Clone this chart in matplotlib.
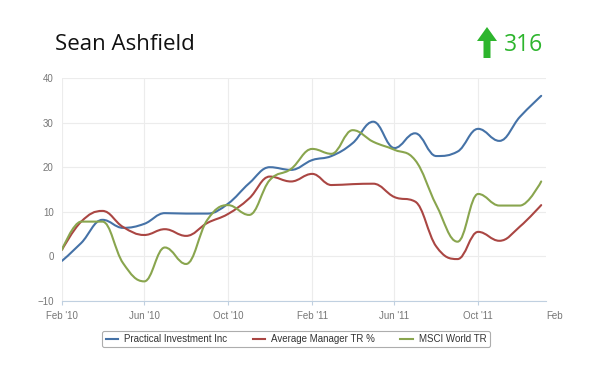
import numpy as np
import pandas as pd
import matplotlib
matplotlib.use('Agg')
import matplotlib.pyplot as plt
from matplotlib.path import Path
from matplotlib.patches import PathPatch, Polygon
from matplotlib.lines import Line2D

start = pd.Timestamp('2010-02-01')
dates = pd.date_range('2010-02-01', periods=24, freq='MS')
tick_dates = pd.to_datetime(['2010-02-01', '2010-06-01', '2010-10-01',
                             '2011-02-01', '2011-06-01', '2011-10-01'])
tick_labels = ["Feb '10", "Jun '10", "Oct '10", "Feb '11", "Jun '11", "Oct '11"]

practical = [-1.0, 3.0, 8.2, 6.4, 7.3, 9.7, 9.6, 9.6, 11.8, 16.4, 20.0, 19.4,
             21.6, 22.5, 25.4, 30.2, 24.3, 27.6, 22.5, 23.5, 28.6, 25.9, 31.3, 36.0]
avg_manager = [1.5, 7.8, 10.2, 6.6, 4.8, 6.1, 4.6, 7.5, 9.5, 13.0, 17.9, 16.8,
               18.5, 16.0, 16.2, 16.3, 13.3, 12.3, 2.2, -0.6, 5.5, 3.5, 6.7, 11.5]
msci = [1.5, 7.8, 7.8, -1.5, -5.6, 2.0, -1.7, 8.2, 11.5, 9.3, 17.1, 19.6,
        24.1, 23.0, 28.3, 25.7, 23.9, 21.6, 11.5, 3.3, 14.0, 11.4, 11.4, 16.8]

series = [("Practical Investment Inc", practical, '#4572A7'),
          ("Average Manager TR %", avg_manager, '#AA4643'),
          ("MSCI World TR", msci, '#89A54E')]

days = [(d - start).days for d in dates]
tick_days = [(d - start).days for d in tick_dates]


def spline_path(xs, ys, smoothing=1.5):
    # highcharts-like bezier spline
    n = len(xs)
    verts = [(xs[0], ys[0])]
    codes = [Path.MOVETO]
    prev_right = (xs[0], ys[0])
    for i in range(1, n):
        x, y = xs[i], ys[i]
        lx, ly = xs[i - 1], ys[i - 1]
        if i < n - 1:
            nx, ny = xs[i + 1], ys[i + 1]
            d = smoothing + 1
            lcx = (smoothing * x + lx) / d
            lcy = (smoothing * y + ly) / d
            rcx = (smoothing * x + nx) / d
            rcy = (smoothing * y + ny) / d
            corr = (rcy - lcy) * (rcx - x) / (rcx - lcx) + y - rcy
            lcy += corr
            rcy += corr
            if lcy > ly and lcy > y:
                lcy = max(ly, y)
                rcy = 2 * y - lcy
            elif lcy < ly and lcy < y:
                lcy = min(ly, y)
                rcy = 2 * y - lcy
            if rcy > ny and rcy > y:
                rcy = max(ny, y)
                lcy = 2 * y - rcy
            elif rcy < ny and rcy < y:
                rcy = min(ny, y)
                lcy = 2 * y - rcy
        else:
            lcx, lcy, rcx, rcy = x, y, x, y
        verts += [prev_right, (lcx, lcy), (x, y)]
        codes += [Path.CURVE4] * 3
        prev_right = (rcx, rcy)
    return Path(verts, codes)


fig = plt.figure(figsize=(6, 3.85), dpi=100)
ax = fig.add_axes([62 / 600, 1 - 301 / 385, 484 / 600, 223 / 385])

for name, vals, col in series:
    ax.add_patch(PathPatch(spline_path(days, vals), facecolor='none',
                           edgecolor=col, lw=1.5, capstyle='round', joinstyle='round'))

ax.set_ylim(-10, 40)
ax.set_yticks([-10, 0, 10, 20, 30, 40])
ax.set_xticks(tick_days)
ax.set_xticklabels(tick_labels)
ax.set_xlim(0, 706)
ax.grid(True, color='#ececec', lw=0.8)
ax.set_axisbelow(True)
for s in ['top', 'right', 'left']:
    ax.spines[s].set_visible(False)
ax.spines['bottom'].set_color('#C0D0E0')
ax.tick_params(axis='y', length=0, pad=6, labelsize=7, labelcolor='#777777')
ax.tick_params(axis='x', length=3, color='#C0D0E0', pad=4, labelsize=7, labelcolor='#777777')
for lab in ax.get_xticklabels() + ax.get_yticklabels():
    lab.set_family('Liberation Sans')
# last month label, cut at the plot edge
fig.text(546 / 600, 1 - 316 / 385, "Feb", fontsize=7, family='Liberation Sans',
         color='#777777', ha='left', va='center')

handles = [Line2D([], [], color=c, lw=1.5) for _, _, c in series]
leg = fig.legend(handles, [n for n, _, _ in series], loc='center',
                 bbox_to_anchor=(296 / 600, 1 - 339 / 385), ncol=3,
                 prop={'family': 'Liberation Sans', 'size': 7}, frameon=True,
                 handlelength=1.3, columnspacing=2.6, handletextpad=0.6,
                 borderpad=0.35, fancybox=True)
leg.get_frame().set_edgecolor('#999999')
leg.get_frame().set_linewidth(0.8)
for t in leg.get_texts():
    t.set_color('#333333')

fig.text(55 / 600, 1 - 45 / 385, "Sean Ashfield", fontsize=16, family='Open Sans',
         va='center', ha='left', color='#111111')
fig.text(504 / 600, 1 - 45 / 385, "316", fontsize=16.5, family='Open Sans',
         va='center', ha='left', color='#2db52d')

# green up arrow
W, H = 600.0, 385.0
arrow_px = [(487, 27), (497, 41), (490.5, 41), (490.5, 58), (483.5, 58), (483.5, 41), (477, 41)]
arrow = Polygon([(x / W, 1 - y / H) for x, y in arrow_px], closed=True,
                transform=fig.transFigure, facecolor='#2db52d', edgecolor='none')
fig.patches.append(arrow)

fig.savefig('out.png', dpi=100, facecolor='white')
